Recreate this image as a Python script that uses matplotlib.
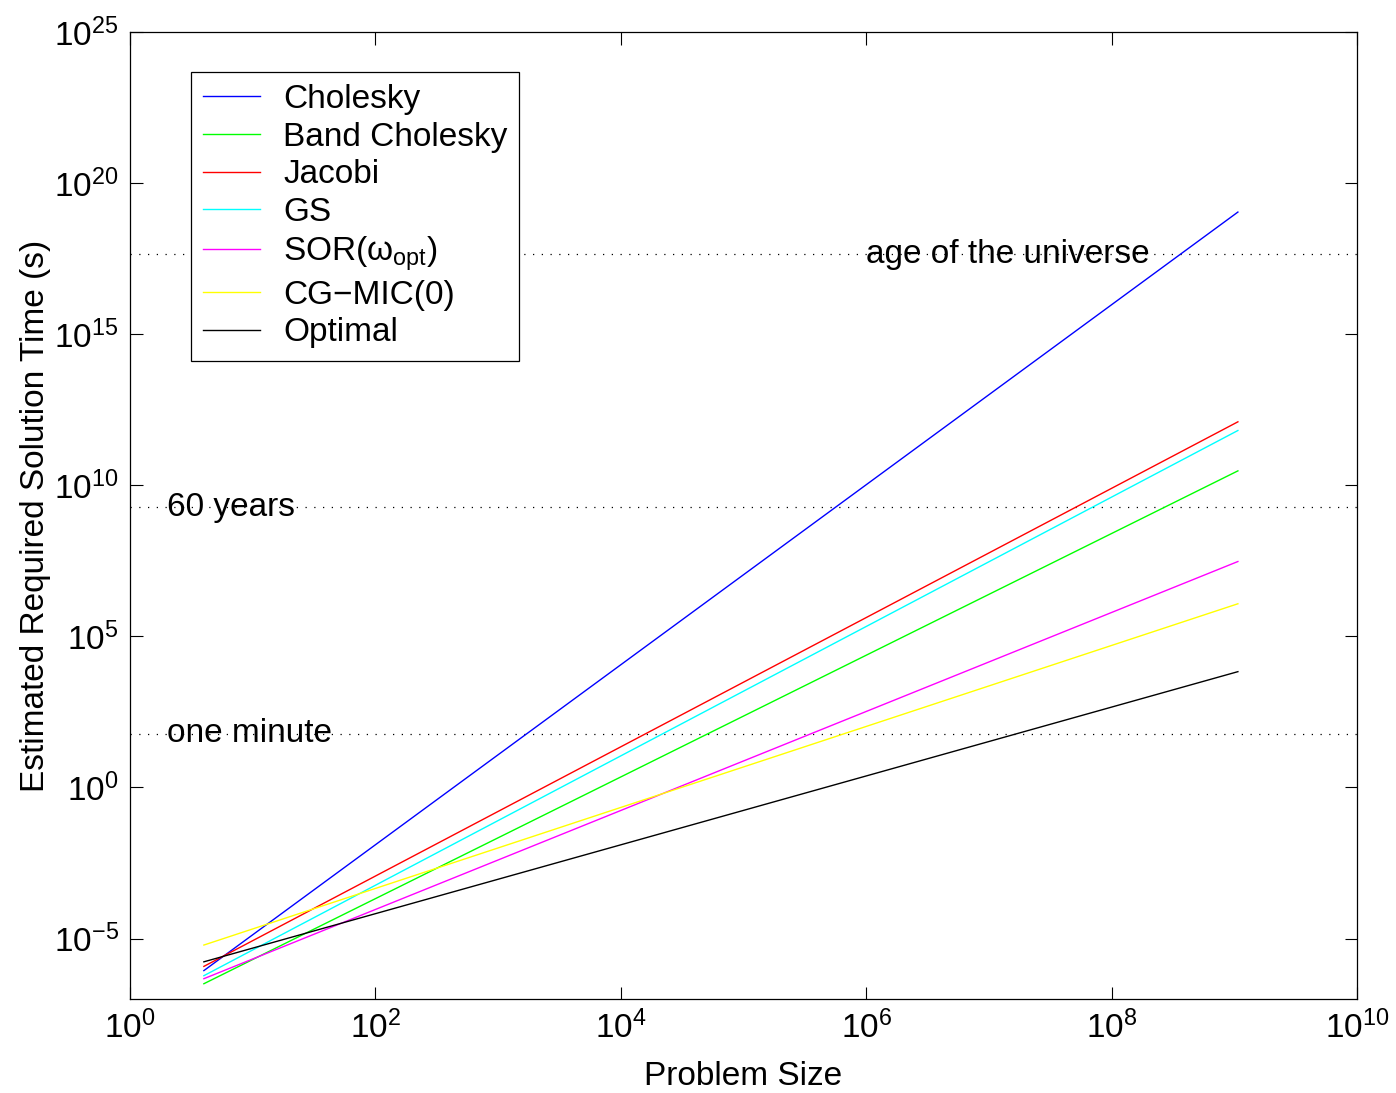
import numpy as np
import matplotlib
matplotlib.use('Agg')
import matplotlib.pyplot as plt

plt.rcParams['font.family'] = ['Liberation Sans', 'DejaVu Sans']
plt.rcParams['mathtext.fontset'] = 'custom'
plt.rcParams['mathtext.rm'] = 'Liberation Sans'
plt.rcParams['mathtext.it'] = 'Liberation Sans:italic'
plt.rcParams['mathtext.default'] = 'regular'

# problem size: first and last grid (2^1)^2 ... (2^15)^2
n = [4, 1.07e9]

# estimated solution time (s) at both ends
cholesky = [8.7e-7, 1.1e19]
band_cholesky = [3.2e-7, 3.0e10]
jacobi = [1.2e-6, 1.26e12]
gs = [5.9e-7, 6.5e11]
sor = [4.7e-7, 3.0e7]
cg_mic = [6.1e-6, 1.2e6]
optimal = [1.7e-6, 6.8e3]

series = [
    ('Cholesky', cholesky, (0, 0, 1)),
    ('Band Cholesky', band_cholesky, (0, 1, 0)),
    ('Jacobi', jacobi, (1, 0, 0)),
    ('GS', gs, (0, 1, 1)),
    (r'SOR($\omega_{opt}$)', sor, (1, 0, 1)),
    ('CG\u2212MIC(0)', cg_mic, (1, 1, 0)),
    ('Optimal', optimal, (0, 0, 0)),
]

# reference times
ref_times = [60.0, 1.89e9, 4.35e17]
ref_labels = ['one minute', '60 years', 'age of the universe']
ref_label_x = [2, 2, 1e6]

fs = 24
fig = plt.figure(figsize=(13.96, 10.93), dpi=100)
ax = fig.add_axes([130 / 1396, 1 - 999 / 1093, (1357 - 130) / 1396, (999 - 32) / 1093])

for t, lab, xl in zip(ref_times, ref_labels, ref_label_x):
    ax.axhline(t, color='k', lw=0.9, linestyle=(0, (1, 6)), zorder=1)
    ax.text(xl, t, lab, fontsize=fs, va='center', ha='left', zorder=2)

for label, vals, col in series:
    ax.loglog(n, vals, color=col, lw=1.0, label=label, zorder=3)

ax.set_xlim(1, 1e10)
ax.set_ylim(1e-7, 1e25)
ax.set_xticks([10.0 ** k for k in range(0, 11, 2)])
ax.set_xticklabels([r'$10^{%d}$' % k for k in range(0, 11, 2)])
ax.set_yticks([10.0 ** k for k in range(-5, 26, 5)])
ax.set_yticklabels([r'$10^{%s}$' % (str(k).replace('-', '\u2212')) for k in range(-5, 26, 5)])
ax.minorticks_off()
ax.tick_params(which='both', direction='in', top=True, right=True, length=9,
               width=0.8, labelsize=fs, pad=8)
for sp in ax.spines.values():
    sp.set_linewidth(0.9)

ax.set_xlabel('Problem Size', fontsize=fs, labelpad=12)
ax.set_ylabel('Estimated Required Solution Time (s)', fontsize=fs, labelpad=2)

leg = ax.legend(loc='upper left', bbox_to_anchor=(191 / 1396, 1 - 72 / 1093),
                bbox_transform=fig.transFigure, borderaxespad=0, fontsize=fs,
                fancybox=False, framealpha=1, edgecolor='k', handlelength=1.7,
                handletextpad=0.7, labelspacing=0.2, borderpad=0.36)
leg.get_frame().set_linewidth(0.9)
leg.set_zorder(5)

fig.savefig('out.png', dpi=100)
